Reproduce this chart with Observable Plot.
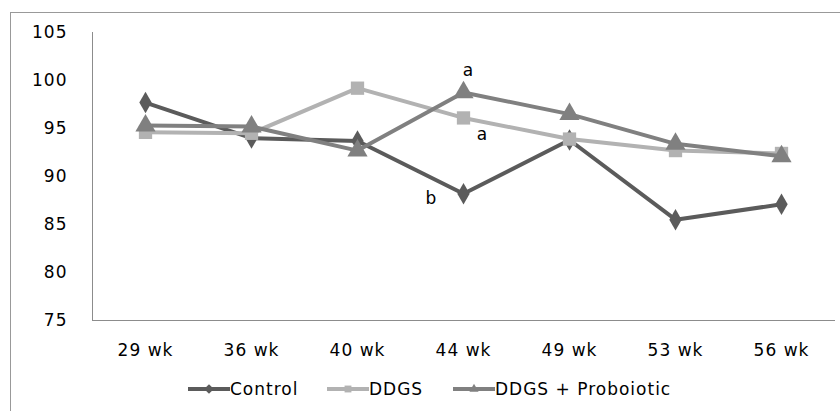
<!DOCTYPE html>
<html>
<head>
<meta charset="utf-8">
<script src="https://cdn.jsdelivr.net/npm/d3@7"></script>
<script src="https://cdn.jsdelivr.net/npm/@observablehq/plot@0.6"></script>
<style>
  html, body { margin: 0; padding: 0; background: #fff; width: 840px; height: 411px; overflow: hidden; }
  body { position: relative; font-family: "DejaVu Sans", sans-serif; }
  #frame { position: absolute; left: 10px; top: 12px; width: 900px; height: 500px; border: 1px solid #999; box-sizing: border-box; }
  #chart { position: absolute; left: 0; top: 0; }
  #chart svg text { letter-spacing: 1px; }
  #legend { position: absolute; left: 0; top: 378px; width: 840px; font-size: 17px; letter-spacing: 1px; color: #000; }
  .item { position: absolute; display: flex; align-items: center; height: 22px; }
  .item svg { display: block; }
</style>
</head>
<body>
<div id="frame"></div>
<div id="chart"></div>
<div id="legend"></div>
<script>
const weeks = ["29 wk", "36 wk", "40 wk", "44 wk", "49 wk", "53 wk", "56 wk"];
const seriesNames = ["Control", "DDGS", "DDGS + Proboiotic"];
const control = [97.7, 94.0, 93.7, 88.2, 93.8, 85.5, 87.1];
const ddgs = [94.6, 94.5, 99.2, 96.1, 93.9, 92.7, 92.4];
const ddgsPro = [95.3, 95.2, 92.7, 98.75, 96.5, 93.4, 92.1];
const yTicks = [75, 80, 85, 90, 95, 100, 105];
const annotations = [
  {series: "DDGS + Proboiotic", week: "44 wk", label: "a", dx: 5, dy: -22},
  {series: "DDGS", week: "44 wk", label: "a", dx: 19, dy: 17},
  {series: "Control", week: "44 wk", label: "b", dx: -32, dy: 5}
];

const colors = {"Control": "#5b5b5b", "DDGS": "#b2b2b2", "DDGS + Proboiotic": "#808080"};
const symbols = {"Control": "diamond", "DDGS": "square", "DDGS + Proboiotic": "triangle"};
const sizes = {"Control": 6.5, "DDGS": 7.5, "DDGS + Proboiotic": 7.5};
const valuesBySeries = {"Control": control, "DDGS": ddgs, "DDGS + Proboiotic": ddgsPro};

const rows = [];
for (const s of seriesNames) weeks.forEach((w, i) => rows.push({series: s, week: w, value: valuesBySeries[s][i]}));
const annRows = annotations.map(a => ({...a, value: valuesBySeries[a.series][weeks.indexOf(a.week)]}));

const marks = [
  Plot.frame({anchor: "left", stroke: "#8c8c8c"}),
  Plot.frame({anchor: "bottom", stroke: "#8c8c8c"})
];
for (const s of seriesNames) {
  const d = rows.filter(r => r.series === s);
  marks.push(Plot.line(d, {x: "week", y: "value", stroke: colors[s], strokeWidth: 4, curve: "linear"}));
  marks.push(Plot.dot(d, {x: "week", y: "value", symbol: () => symbols[s], fill: colors[s], stroke: "none", r: sizes[s]}));
}
for (const a of annRows) {
  marks.push(Plot.text([a], {x: "week", y: "value", text: "label", dx: a.dx, dy: a.dy, fontSize: 17, fill: "#000"}));
}

const chart = Plot.plot({
  width: 840,
  height: 370,
  marginLeft: 92,
  marginRight: 6,
  marginTop: 32,
  marginBottom: 50,
  style: {fontFamily: "'DejaVu Sans', sans-serif", fontSize: "17px", background: "transparent", color: "#000"},
  x: {type: "point", domain: weeks, padding: 0.5, label: null, tickSize: 0, tickPadding: 23},
  y: {domain: [75, 105], ticks: yTicks, label: null, tickSize: 0, tickPadding: 25},
  symbol: {type: "identity"},
  marks
});
document.getElementById("chart").appendChild(chart);

// legend
const legend = document.getElementById("legend");
const legendPos = {"Control": 188, "DDGS": 327, "DDGS + Proboiotic": 453};
for (const s of seriesNames) {
  const item = document.createElement("div");
  item.className = "item";
  item.style.left = legendPos[s] + "px";
  const svgNS = "http://www.w3.org/2000/svg";
  const svg = document.createElementNS(svgNS, "svg");
  svg.setAttribute("width", 42); svg.setAttribute("height", 22);
  const ln = document.createElementNS(svgNS, "line");
  ln.setAttribute("x1", 0); ln.setAttribute("x2", 42); ln.setAttribute("y1", 11); ln.setAttribute("y2", 11);
  ln.setAttribute("stroke", colors[s]); ln.setAttribute("stroke-width", 4);
  svg.appendChild(ln);
  const sym = d3.symbol(s === "Control" ? d3.symbolDiamond2 : s === "DDGS" ? d3.symbolSquare2 : d3.symbolTriangle2, 60)();
  const p = document.createElementNS(svgNS, "path");
  p.setAttribute("d", sym); p.setAttribute("transform", "translate(21,11)"); p.setAttribute("fill", colors[s]);
  svg.appendChild(p);
  item.appendChild(svg);
  const t = document.createElement("span");
  t.textContent = s;
  item.appendChild(t);
  legend.appendChild(item);
}
</script>
</body>
</html>
